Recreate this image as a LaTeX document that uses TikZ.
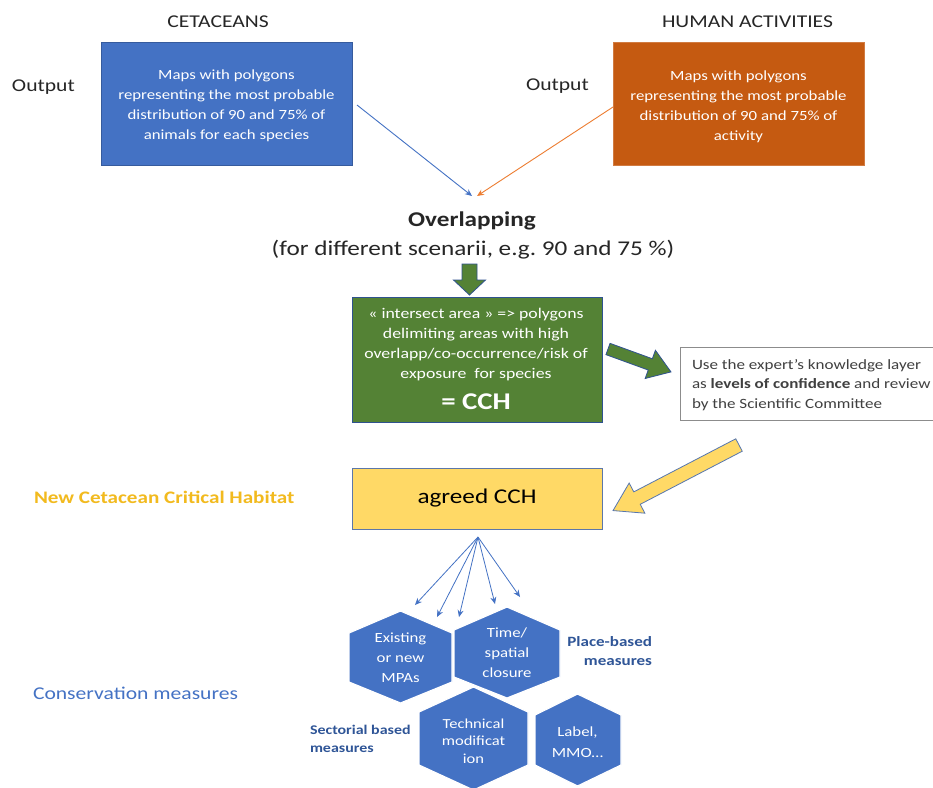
\documentclass[tikz,border=0pt]{standalone}
\usepackage{fontspec}
\setmainfont{Carlito}[FakeStretch=1.2]
\usetikzlibrary{arrows.meta}
\frenchspacing
\definecolor{cblue}{HTML}{4472C4}
\definecolor{corange}{HTML}{C55A11}
\definecolor{carrow}{HTML}{ED7D31}
\definecolor{cgreen}{HTML}{548235}
\definecolor{cyellow}{HTML}{FFD966}
\definecolor{cgold}{HTML}{F2BA1E}
\definecolor{cdark}{HTML}{2F5597}
\definecolor{cedge}{HTML}{2F528F}
\definecolor{ctext}{HTML}{262626}
\begin{document}
\begin{tikzpicture}[x=1pt,y=-1pt,
  every node/.style={inner sep=0pt, outer sep=0pt},
  title/.style={font=\fontsize{18}{20}\selectfont, text=ctext},
  mapbox/.style={align=center, text=white, font=\fontsize{14}{20}\selectfont},
  thinarrow/.style={-{Stealth[length=7pt,width=6pt]}, line width=0.9pt},
  blockarrow/.style={line width=0.8pt, line join=miter},
  hexa/.style={fill=cblue, draw=white, line width=1.2pt},
  hextext/.style={align=center, text=white, font=\fontsize{14}{20}\selectfont},
  bluelabel/.style={font=\bfseries\fontsize{13.5}{18}\selectfont, text=cdark}]
\clip (0,0) rectangle (933,787);
\fill[white] (0,0) rectangle (933,787);

% titles
\node[title] (tcet) at (218,22) {CETACEANS};
\node[title] (thum) at (747.5,22) {HUMAN ACTIVITIES};
\node[title, anchor=west] (out1) at (12,87) {Output};
\node[title, anchor=west] (out2) at (526,86) {Output};

% top boxes
\node[fill=cblue, draw=cblue!80!black, line width=0.6pt, minimum width=251pt, minimum height=123pt] (cet) at (226.5,103.5) {};
\node[mapbox] (cettxt) at (226.5,106)
  {Maps with polygons\\representing the most probable\\distribution of 90 and 75\% of\\animals for each species};
\node[fill=corange, draw=corange!80!white, line width=0.6pt, minimum width=251pt, minimum height=123pt] (hum) at (738.5,103.5) {};
\node[mapbox] (humtxt) at (738.5,107)
  {Maps with polygons\\representing the most probable\\distribution of 90 and 75\% of\\activity};

% overlapping
\coordinate (ovtop1) at (472,196);
\coordinate (ovtop2) at (477,196);
\coordinate (cetout) at (357,105);
\coordinate (humout) at (613,107);
\draw[thinarrow, draw=cblue] (cetout) -- (ovtop1);
\draw[thinarrow, draw=carrow] (humout) -- (ovtop2);
\node[font=\bfseries\fontsize{21}{24}\selectfont, text=ctext] (ov) at (472,221) {Overlapping};
\node[font=\fontsize{21}{24}\selectfont, text=ctext] (ovsub) at (473,250) {(for different scenarii, e.g. 90 and 75 \%)};

% green down block arrow
\begin{scope}[shift={(469.5,264)}, rotate=-90]
\draw[blockarrow, fill=cgreen, draw=cedge] (0,-7.5) -- (16,-7.5) -- (16,-16) -- (31,0) -- (16,16) -- (16,7.5) -- (0,7.5) -- cycle;
\end{scope}

% green box
\node[fill=cgreen, draw=cedge, line width=1pt, minimum width=250pt, minimum height=125pt] (cch) at (477,359.5) {};
\node[align=center, text=white, font=\fontsize{14.8}{20}\selectfont] (cchtxt) at (476,345)
  {« intersect area » => polygons\\delimiting areas with high\\overlapp/co-occurrence/risk of\\exposure\ \ for species};
\node[text=white, font=\bfseries\fontsize{24}{26}\selectfont] (cchlbl) at (476,402) {= CCH};

% green diagonal block arrow
\begin{scope}[shift={(608,349)}, rotate=-20]
\draw[blockarrow, fill=cgreen, draw=cedge] (0,-6) -- (45,-6) -- (45,-15) -- (67,0) -- (45,15) -- (45,6) -- (0,6) -- cycle;
\end{scope}

% expert box
\node[draw=black!45, line width=0.8pt, fill=white, minimum width=253pt, minimum height=73pt, anchor=west] (exp) at (680,383.5) {};
\node[anchor=west, align=left, text=black!75, font=\fontsize{14.2}{19.5}\selectfont] (exptxt) at (692,385)
  {Use the expert's knowledge layer\\as \textbf{levels of confidence} and review\\by the Scientific Committee};

% yellow block arrow
\begin{scope}[shift={(739,445)}, rotate=-152.5]
\draw[blockarrow, fill=cyellow, draw=cblue!70!gray] (0,-7) -- (115,-7) -- (115,-17) -- (142,0) -- (115,17) -- (115,7) -- (0,7) -- cycle;
\end{scope}

% agreed CCH
\node[font=\bfseries\fontsize{17.6}{20}\selectfont, text=cgold, anchor=west] (newcch) at (34,497) {New Cetacean Critical Habitat};
\node[fill=cyellow, draw=cblue!60!gray, line width=1pt, minimum width=250pt, minimum height=61pt,
      font=\fontsize{21}{24}\selectfont, text=black] (agreed) at (477,498.5) {agreed CCH};

% fan arrows
\coordinate (fan) at (478,537);
\coordinate (f1) at (415,605);
\coordinate (f2) at (437,617);
\coordinate (f3) at (459,617);
\coordinate (f4) at (495,604);
\coordinate (f5) at (520,597);
\foreach \t in {f1,f2,f3,f4,f5}
  \draw[thinarrow, draw=cblue, line width=0.8pt] (fan) -- (\t);

% hexagons
\path[hexa] (400.5,611) -- (452,633) -- (452,682) -- (400.5,703) -- (349,682) -- (349,633) -- cycle;
\node[hextext] (hex1) at (400.5,658) {Existing\\or new\\MPAs};
\path[hexa] (507,607) -- (560,630) -- (560,677) -- (507,698) -- (454,677) -- (454,630) -- cycle;
\node[hextext] (hex2) at (507,653) {Time/\\spatial\\closure};
\path[hexa] (473.5,687) -- (528,712) -- (528,765) -- (473.5,790) -- (419,765) -- (419,712) -- cycle;
\node[hextext, font=\fontsize{13.8}{17.5}\selectfont] (hex3) at (473.5,741) {Technical\\modificat\\ion};
\path[hexa] (577.5,694) -- (621,715) -- (621,765) -- (577.5,786) -- (535,765) -- (535,715) -- cycle;
\node[hextext, font=\fontsize{14}{21}\selectfont] (hex4) at (577.5,742) {Label,\\MMO…};

% measure labels
\node[bluelabel, align=right, anchor=east, font=\bfseries\fontsize{14.2}{19}\selectfont] (place) at (652,651) {Place-based\\measures};
\node[bluelabel, align=left, anchor=west, font=\bfseries\fontsize{13.3}{18}\selectfont] (sect) at (310,739) {Sectorial based\\measures};
\node[font=\fontsize{18}{22}\selectfont, text=cblue, anchor=west] (cons) at (33,693) {Conservation measures};
\end{tikzpicture}
\end{document}
